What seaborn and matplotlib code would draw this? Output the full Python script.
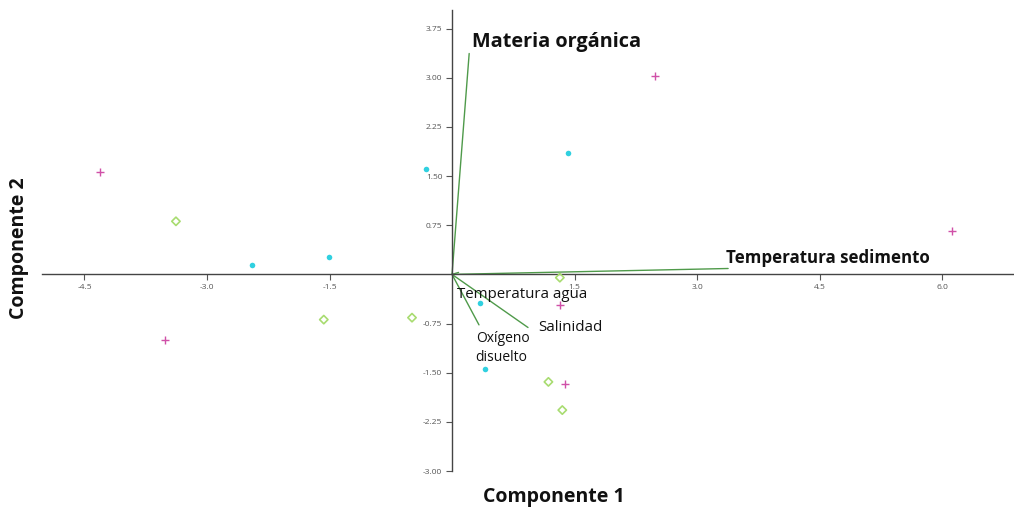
"""PCA biplot: Componente 1 vs Componente 2 with environmental vectors."""

import matplotlib.pyplot as plt
import numpy as np
import pandas as pd
import seaborn as sns

# Sample scores
plus_x = [-4.31, -3.51, 2.48, 6.12, 1.38, 1.32]
plus_y = [1.56, -1.00, 3.03, 0.66, -1.67, -0.46]
dot_x = [-2.45, -1.51, -0.32, 1.42, 0.34, 0.40]
dot_y = [0.15, 0.26, 1.61, 1.85, -0.44, -1.44]
diamond_x = [-3.38, -1.57, -0.49, 1.32, 1.18, 1.35]
diamond_y = [0.81, -0.69, -0.66, -0.05, -1.64, -2.07]

# Loading vectors
var_names = ["Materia orgánica", "Temperatura sedimento", "Temperatura agua",
             "Salinidad", "Oxígeno\ndisuelto"]
var_x = [0.21, 3.38, 0.08, 0.93, 0.33]
var_y = [3.37, 0.09, 0.03, -0.81, -0.77]
label_x = [0.245, 3.35, 0.06, 1.05, 0.29]
label_y = [3.54, 0.245, -0.31, -0.81, -1.12]
label_bold = [True, True, False, False, False]
label_size = [14.3, 12.2, 10.8, 10.8, 10]

x_ticks = [-4.5, -3.0, -1.5, 1.5, 3.0, 4.5, 6.0]
y_ticks = [3.75, 3.00, 2.25, 1.50, 0.75, -0.75, -1.50, -2.25, -3.00]

sns.set_theme(style="white")
plt.rcParams["font.family"] = ["Open Sans", "DejaVu Sans"]

scores = pd.DataFrame({
    "x": plus_x + dot_x + diamond_x,
    "y": plus_y + dot_y + diamond_y,
    "grupo": ["plus"] * len(plus_x) + ["dot"] * len(dot_x) + ["diamond"] * len(diamond_x),
})

fig = plt.figure(figsize=(10.14, 5.12), dpi=100)
ax = fig.add_axes([0.0414, 0.080, 0.9586, 0.900])

# Vectors
for vx, vy in zip(var_x, var_y):
    ax.plot([0, vx], [0, vy], color="#4f9a4a", lw=1.0, zorder=2)

sns.scatterplot(data=scores[scores.grupo == "plus"], x="x", y="y", marker="+",
                color="#d050a8", s=30, linewidth=1.0, ax=ax, zorder=3)
sns.scatterplot(data=scores[scores.grupo == "dot"], x="x", y="y", marker="o",
                color="#30d0e0", s=16, linewidth=0, ax=ax, zorder=3)
sns.scatterplot(data=scores[scores.grupo == "diamond"], x="x", y="y", marker="D",
                color="#a8dc70", s=18, ax=ax, zorder=3)
ax.collections[-1].set_facecolor("none")
ax.collections[-1].set_edgecolor("#a8dc70")
ax.collections[-1].set_linewidth(1.2)

for name, lx, ly, bold, size in zip(var_names, label_x, label_y, label_bold, label_size):
    ax.text(lx, ly, name, ha="left", va="center", fontsize=size,
            fontweight="bold" if bold else "normal",
            color="#111111", linespacing=1.4, zorder=4)

ax.set_xlim(-5.02, 6.88)
ax.set_ylim(-3.0, 4.03)

for side in ["top", "right"]:
    ax.spines[side].set_visible(False)
ax.spines["left"].set_position(("data", 0))
ax.spines["bottom"].set_position(("data", 0))
ax.spines["left"].set_color("#444444")
ax.spines["bottom"].set_color("#444444")
ax.spines["left"].set_linewidth(1.0)
ax.spines["bottom"].set_linewidth(1.0)

ax.set_xticks(x_ticks)
ax.set_xticklabels([f"{t:.1f}" for t in x_ticks])
ax.set_yticks(y_ticks)
ax.set_yticklabels([f"{t:.2f}" for t in y_ticks])
ax.tick_params(axis="both", labelsize=6, colors="#555555", length=4, width=0.8,
               direction="out", bottom=True, left=True, pad=3)
ax.set_xlabel("")
ax.set_ylabel("")

fig.text(0.546, 0.030, "Componente 1", ha="center", va="center",
         fontsize=14, fontweight="bold", color="#111111")
fig.text(0.019, 0.516, "Componente 2", ha="center", va="center", rotation=90,
         fontsize=14, fontweight="bold", color="#111111")

fig.savefig("out.png", dpi=100, facecolor="white")
plt.close(fig)
